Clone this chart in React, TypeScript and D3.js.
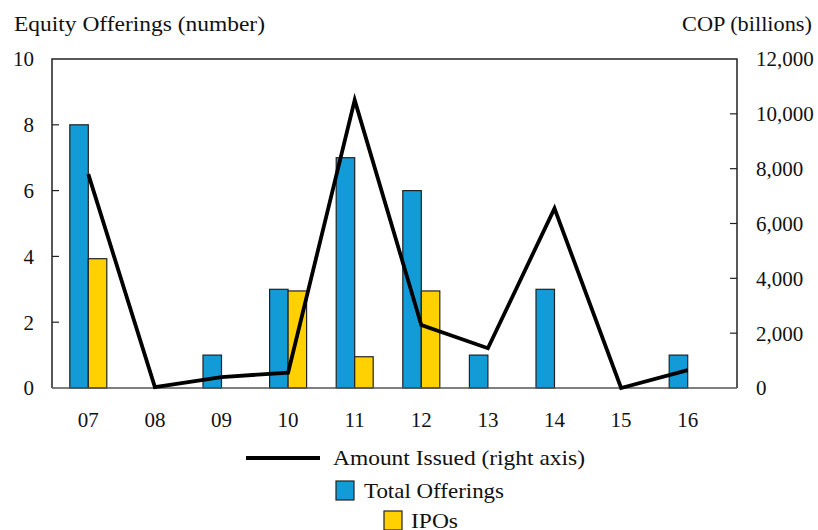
import React from "react";
import * as d3 from "d3";

const categories = ["07", "08", "09", "10", "11", "12", "13", "14", "15", "16"];
const totalOfferings = [8, 0, 1, 3, 7, 6, 1, 3, 0, 1];
const ipos = [3.93, 0, 0, 2.95, 0.95, 2.95, 0, 0, 0, 0];
const amountIssued = [7800, 30, 400, 560, 10500, 2300, 1450, 6550, 0, 650];
const leftTicks = [0, 2, 4, 6, 8, 10];
const rightTicks = [0, 2000, 4000, 6000, 8000, 10000, 12000];

const W = 818, H = 530;
const plotL = 52, plotR = 737, plotT = 59, plotB = 388;
const FONT = "'Liberation Serif', serif";
const FS = 21;

export default function App() {
  const x = d3.scaleBand<string>().domain(categories).range([55, 721]);
  const yL = d3.scaleLinear().domain([0, 10]).range([plotB, plotT]);
  const yR = d3.scaleLinear().domain([0, 12000]).range([plotB, plotT]);
  const cx = (c: string) => (x(c) as number) + x.bandwidth() / 2;
  const bw = 18.5;
  const line = d3
    .line<number>()
    .x((_, i) => cx(categories[i]))
    .y((d) => yR(d));

  const T = (props: any) => (
    <text fontFamily={FONT} fontSize={FS} fill="#111" lengthAdjust="spacingAndGlyphs" {...props} />
  );

  return (
    <svg width={W} height={H} style={{ position: "absolute", left: 0, top: 0, background: "#fff" }}>
      <rect x={0} y={0} width={W} height={H} fill="#fff" />
      <T x={14} y={31} textLength={251}>Equity Offerings (number)</T>
      <T x={682} y={31} textLength={130}>COP (billions)</T>

      {/* bars */}
      {categories.map((c, i) => (
        <g key={c}>
          {totalOfferings[i] > 0 && (
            <rect x={cx(c) - bw} y={yL(totalOfferings[i])} width={bw} height={plotB - yL(totalOfferings[i])}
              fill="#129BD6" stroke="#222" strokeWidth={1.2} />
          )}
          {ipos[i] > 0 && (
            <rect x={cx(c)} y={yL(ipos[i])} width={bw} height={plotB - yL(ipos[i])}
              fill="#FFD100" stroke="#222" strokeWidth={1.2} />
          )}
        </g>
      ))}

      {/* frame */}
      <path d={`M${plotL},${plotB}V${plotT}H${plotR}V${plotB}`} fill="none" stroke="#222" strokeWidth={1.5} />
      <line x1={plotL} x2={plotR} y1={plotB} y2={plotB} stroke="#555" strokeWidth={1.5} />

      {/* left ticks */}
      {leftTicks.map((t) => (
        <g key={"l" + t}>
          {t > 0 && t < 10 && <line x1={plotL} x2={plotL + 7} y1={yL(t)} y2={yL(t)} stroke="#222" strokeWidth={1.2} />}
          <text x={34} y={yL(t)} dy="0.35em" textAnchor="end" fontFamily={FONT} fontSize={FS} fill="#111">{t}</text>
        </g>
      ))}
      {/* right ticks */}
      {rightTicks.map((t) => (
        <g key={"r" + t}>
          {t > 0 && t < 12000 && <line x1={plotR - 7} x2={plotR} y1={yR(t)} y2={yR(t)} stroke="#222" strokeWidth={1.2} />}
          <text x={756} y={yR(t)} dy="0.35em" fontFamily={FONT} fontSize={FS} fill="#111">{d3.format(",")(t)}</text>
        </g>
      ))}
      {/* category labels */}
      {categories.map((c) => (
        <text key={"c" + c} x={cx(c)} y={420} dy="0.35em" textAnchor="middle" fontFamily={FONT} fontSize={FS} fill="#111">{c}</text>
      ))}

      {/* line */}
      <path d={line(amountIssued) as string} fill="none" stroke="#000" strokeWidth={3.8} strokeLinejoin="miter" />

      {/* legend */}
      <line x1={246} x2={320} y1={458} y2={458} stroke="#000" strokeWidth={3.8} />
      <T x={333} y={458} dy="0.35em" textLength={252}>Amount Issued (right axis)</T>
      <rect x={336} y={481} width={18} height={19} fill="#129BD6" stroke="#222" strokeWidth={1.2} />
      <T x={364} y={491} dy="0.35em" textLength={140}>Total Offerings</T>
      <rect x={384} y={511} width={18} height={19} fill="#FFD100" stroke="#222" strokeWidth={1.2} />
      <T x={411} y={521} dy="0.35em" textLength={47}>IPOs</T>
    </svg>
  );
}
